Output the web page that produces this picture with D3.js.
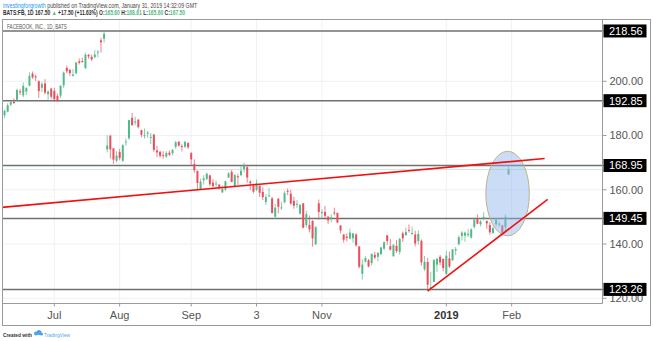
<!DOCTYPE html>
<html>
<head>
<meta charset="utf-8">
<script src="https://cdn.jsdelivr.net/npm/d3@7"></script>
<style>
  body { margin: 0; background: #fff; }
  svg { display: block; font-family: "Liberation Sans", Arial, sans-serif; }
</style>
</head>
<body>
<svg id="chart" width="653" height="341"></svg>
<script>
// Daily sessions, FB on BATS, 1D
const dates = [
  "2018-06-08","2018-06-11","2018-06-12","2018-06-13","2018-06-14","2018-06-15","2018-06-18","2018-06-19","2018-06-20","2018-06-21","2018-06-22","2018-06-25","2018-06-26","2018-06-27","2018-06-28","2018-06-29",
  "2018-07-02","2018-07-03","2018-07-05","2018-07-06","2018-07-09","2018-07-10","2018-07-11","2018-07-12","2018-07-13","2018-07-16","2018-07-17","2018-07-18","2018-07-19","2018-07-20","2018-07-23","2018-07-24","2018-07-25","2018-07-26","2018-07-27","2018-07-30","2018-07-31",
  "2018-08-01","2018-08-02","2018-08-03","2018-08-06","2018-08-07","2018-08-08","2018-08-09","2018-08-10","2018-08-13","2018-08-14","2018-08-15","2018-08-16","2018-08-17","2018-08-20","2018-08-21","2018-08-22","2018-08-23","2018-08-24","2018-08-27","2018-08-28","2018-08-29","2018-08-30","2018-08-31",
  "2018-09-04","2018-09-05","2018-09-06","2018-09-07","2018-09-10","2018-09-11","2018-09-12","2018-09-13","2018-09-14","2018-09-17","2018-09-18","2018-09-19","2018-09-20","2018-09-21","2018-09-24","2018-09-25","2018-09-26","2018-09-27","2018-09-28",
  "2018-10-01","2018-10-02","2018-10-03","2018-10-04","2018-10-05","2018-10-08","2018-10-09","2018-10-10","2018-10-11","2018-10-12","2018-10-15","2018-10-16","2018-10-17","2018-10-18","2018-10-19","2018-10-22","2018-10-23","2018-10-24","2018-10-25","2018-10-26","2018-10-29","2018-10-30","2018-10-31",
  "2018-11-01","2018-11-02","2018-11-05","2018-11-06","2018-11-07","2018-11-08","2018-11-09","2018-11-12","2018-11-13","2018-11-14","2018-11-15","2018-11-16","2018-11-19","2018-11-20","2018-11-21","2018-11-23","2018-11-26","2018-11-27","2018-11-28","2018-11-29","2018-11-30",
  "2018-12-03","2018-12-04","2018-12-06","2018-12-07","2018-12-10","2018-12-11","2018-12-12","2018-12-13","2018-12-14","2018-12-17","2018-12-18","2018-12-19","2018-12-20","2018-12-21","2018-12-24","2018-12-26","2018-12-27","2018-12-28","2018-12-31",
  "2019-01-02","2019-01-03","2019-01-04","2019-01-07","2019-01-08","2019-01-09","2019-01-10","2019-01-11","2019-01-14","2019-01-15","2019-01-16","2019-01-17","2019-01-18","2019-01-22","2019-01-23","2019-01-24","2019-01-25","2019-01-28","2019-01-29","2019-01-30","2019-01-31"
];

const open = [
  187.5,188.8,191.4,192.4,193.2,196.3,194.8,196.2,198.4,202.8,201.8,200.0,197.6,199.2,195.2,197.3,
  196.5,194.6,194.7,198.5,204.9,204.2,202.0,203.0,207.4,207.5,204.9,209.8,209.0,208.9,210.6,215.1,215.7,174.9,179.9,175.3,170.7,
  173.9,170.7,177.7,179.0,186.5,184.8,185.9,182.0,180.1,180.7,179.3,180.4,174.5,174.0,172.8,172.2,173.7,173.5,175.8,177.7,176.1,175.9,177.2,
  173.5,169.5,167.0,160.3,163.5,164.0,165.3,162.6,162.0,161.9,159.0,160.1,164.5,166.6,161.0,165.0,165.4,167.6,168.3,
  163.0,161.6,160.0,161.5,159.2,155.5,157.7,156.8,150.1,156.7,153.3,155.4,159.6,158.5,155.9,154.8,151.2,155.0,147.0,147.0,148.5,139.9,155.0,
  151.5,151.8,150.1,149.3,151.6,151.5,146.8,143.5,142.7,142.0,142.1,143.5,139.1,129.0,133.5,134.0,133.0,136.0,135.3,136.3,138.3,
  143.2,139.2,135.5,139.3,137.1,143.9,143.2,145.2,143.6,143.5,141.1,141.2,130.7,133.4,123.1,126.0,132.4,135.3,134.5,
  129.0,134.7,134.0,137.6,139.9,143.0,143.1,143.3,142.4,146.3,149.6,147.3,149.3,148.5,147.0,144.1,147.3,147.4,146.8,146.2,165.6
];
const high = [
  189.5,191.9,192.6,193.7,197.3,197.2,199.6,197.9,203.3,203.6,202.4,200.4,199.8,200.8,196.7,197.6,
  197.6,195.4,198.6,203.6,205.8,204.6,204.5,207.1,208.4,208.7,210.5,210.0,209.8,211.5,211.6,216.0,218.6,180.1,180.3,175.3,174.2,
  175.1,176.8,178.9,185.8,188.3,186.9,185.9,182.1,182.6,181.7,180.9,180.5,176.2,174.4,174.2,174.2,174.5,175.0,178.0,177.9,176.8,178.2,177.6,
  173.9,171.2,167.0,164.1,165.4,166.4,165.6,164.0,163.4,162.1,161.6,163.4,166.5,167.3,165.7,165.9,169.0,170.0,168.8,
  163.5,162.3,163.7,161.5,160.9,158.3,160.6,157.4,154.8,156.9,155.6,159.5,160.5,160.0,157.4,156.2,154.8,155.1,152.2,150.5,148.8,146.6,156.4,
  152.8,154.1,150.2,151.0,153.4,151.5,147.0,143.7,143.9,145.7,144.1,144.0,139.2,134.4,135.5,134.5,136.4,137.1,136.8,139.0,141.0,
  143.3,141.9,140.0,141.5,142.2,144.6,146.0,147.2,146.4,144.9,145.0,141.7,135.6,134.9,129.7,134.2,135.0,135.9,134.6,
  137.5,137.2,138.0,138.9,143.1,144.7,144.6,145.6,145.8,149.4,150.9,148.8,151.7,148.7,148.0,146.5,149.6,148.3,147.2,150.9,168.61
];
const low = [
  186.4,188.5,190.9,191.6,192.8,194.9,194.1,194.9,198.1,200.9,200.1,193.9,196.1,195.2,192.9,193.5,
  192.5,192.4,193.8,197.6,202.9,202.0,201.8,202.6,206.2,206.8,204.5,208.3,207.5,208.5,208.8,210.6,214.3,173.8,171.5,169.5,170.0,
  170.9,170.3,176.2,178.4,183.7,183.8,182.6,179.4,178.9,179.2,176.8,174.0,172.0,171.8,171.4,171.8,172.5,172.7,175.1,175.9,174.1,175.3,175.0,
  168.8,166.3,160.0,160.0,161.9,163.6,161.3,160.7,160.9,160.1,158.9,159.5,164.5,162.8,160.9,161.8,165.0,166.4,162.6,
  159.9,158.7,159.5,157.4,156.2,154.4,157.4,151.3,149.2,151.3,152.6,155.0,158.0,154.5,153.0,153.3,150.9,145.8,146.1,144.3,139.0,139.7,149.0,
  149.4,149.0,147.4,148.0,150.6,147.7,143.9,140.5,141.0,141.7,140.5,139.0,131.0,126.9,133.2,131.4,132.1,134.5,133.6,135.8,137.7,
  139.7,137.6,135.3,136.7,136.1,140.8,143.2,144.2,143.6,139.1,139.7,132.0,130.0,123.4,123.0,125.9,129.7,132.2,130.0,
  128.6,131.1,133.8,135.9,139.5,141.3,140.8,142.5,142.0,145.7,147.3,146.5,148.7,145.6,143.4,143.6,146.5,146.3,143.1,144.1,165.6
];
const close = [
  189.1,191.2,192.3,192.0,196.8,195.9,198.3,197.5,202.0,201.5,201.7,196.4,199.0,195.8,196.2,194.3,
  193.4,192.7,198.4,203.2,203.7,203.0,202.5,206.9,206.8,207.2,209.8,209.2,208.1,209.9,210.9,214.4,217.5,176.3,174.9,171.1,172.6,
  171.7,176.4,177.8,185.7,183.8,185.2,183.1,180.3,180.1,181.1,179.5,174.7,173.8,172.5,172.6,173.6,172.9,174.7,177.5,176.3,175.9,177.6,175.7,
  171.2,167.2,162.5,163.0,164.2,165.9,162.0,161.4,162.3,160.6,160.3,163.1,166.0,162.9,165.4,164.9,167.0,168.8,164.5,
  162.4,159.3,162.4,158.9,157.3,157.3,157.9,151.4,153.4,153.7,153.5,158.8,159.4,154.9,154.1,154.8,154.4,146.0,151.0,145.4,142.1,146.2,151.8,
  151.8,150.4,148.7,149.9,151.5,147.9,145.0,141.6,142.2,144.2,143.9,139.5,131.6,132.4,134.8,131.7,136.4,135.0,136.8,138.7,140.6,
  141.1,137.9,139.6,137.4,141.9,142.1,144.5,145.0,144.1,140.2,143.7,133.2,133.4,125.0,124.1,134.2,134.5,133.2,131.1,
  135.7,131.7,138.0,138.1,142.5,144.2,144.2,143.8,145.4,149.0,147.5,148.3,150.0,147.6,144.3,145.8,149.0,147.5,144.2,150.0,167.5
];

// Horizontal support / resistance levels
const levels = [218.56, 192.85, 168.95, 149.45, 123.26];
const lastPrice = 167.50;

// Price axis ticks
const priceTicks = [120, 140, 160, 180, 200];

// Time axis ticks
const timeTickDates = ["2018-07-02", "2018-08-01", "2018-09-04", "2018-10-03", "2018-11-01", "2019-01-02", "2019-02-01"];
const timeTickLabels = ["Jul", "Aug", "Sep", "3", "Nov", "2019", "Feb"];

// Trend lines: [bar offset from first session, price]
const trendStart = [[-1, 153.47], [135.97, 122.6]];
const trendEnd   = [[173.6, 171.52], [174.57, 156.48]];

// Highlight ellipse: centre (bar, price) and radii (bars, price)
const ellipseCentre = [161.7, 158.6];
const ellipseRadii = [7.0, 15.6];

// Visible window
const barDomain = [-0.66, 192.2];
const priceDomain = [118.06, 222.79];

const upColor = "#53b987", downColor = "#eb4d5c";
const svg = d3.select("#chart");

const P = { left: 2.5, right: 602.5, top: 19.5, bottom: 303.5, outerRight: 650.5, outerBottom: 325.5 };

const x = d3.scaleLinear().domain(barDomain).range([P.left, P.right]);
const y = d3.scaleLinear().domain(priceDomain).range([P.bottom, P.top]);

function barIndex(ds) {
  const i = dates.indexOf(ds);
  if (i >= 0) return i;
  let n = dates.length - 1;
  let d = new Date(dates[n] + "T00:00:00Z");
  const target = new Date(ds + "T00:00:00Z");
  while (d < target) {
    d = new Date(d.getTime() + 86400000);
    const wd = d.getUTCDay();
    if (wd !== 0 && wd !== 6) n++;
  }
  return n;
}

// Narrow a text line horizontally so it spans the given width
function fitWidth(g, width) {
  const w = g.select("text").node().getComputedTextLength();
  const tr = g.attr("data-origin");
  g.attr("transform", `translate(${tr}) scale(${width / w},1)`);
}

// Header
const head1 = svg.append("g").attr("data-origin", "3,7.5");
const h1 = head1.append("text").attr("font-size", 6.4).attr("fill", "#444");
h1.append("tspan").attr("fill", "#2196f3").text("investingforgrowth");
h1.append("tspan").text(" published on TradingView.com, January 31, 2019 14:32:09 GMT");
fitWidth(head1, 194);

const head2 = svg.append("g").attr("data-origin", "3,15");
const h2 = head2.append("text").attr("font-size", 6.4).attr("fill", "#333").attr("font-weight", 600);
h2.append("tspan").text("BATS:FB, 1D 167.50 ");
h2.append("tspan").attr("fill", upColor).text("▲");
h2.append("tspan").text(" +17.50 (+11.63%) O:");
h2.append("tspan").attr("fill", upColor).text("165.60");
h2.append("tspan").text(" H:");
h2.append("tspan").attr("fill", upColor).text("168.61");
h2.append("tspan").text(" L:");
h2.append("tspan").attr("fill", upColor).text("165.60");
h2.append("tspan").text(" C:");
h2.append("tspan").attr("fill", upColor).text("167.50");
fitWidth(head2, 182);

// Clip for plotting area
svg.append("defs").append("clipPath").attr("id", "plotClip")
  .append("rect").attr("x", P.left).attr("y", P.top).attr("width", P.right - P.left).attr("height", P.bottom - P.top);

// Grid
const grid = svg.append("g").attr("stroke", "#eef1f5").attr("stroke-width", 1);
grid.selectAll("line.v").data(timeTickDates).join("line")
  .attr("x1", d => x(barIndex(d))).attr("x2", d => x(barIndex(d)))
  .attr("y1", P.top).attr("y2", P.bottom);
grid.selectAll("line.h").data(priceTicks).join("line")
  .attr("x1", P.left).attr("x2", P.right)
  .attr("y1", d => y(d)).attr("y2", d => y(d));

const plot = svg.append("g").attr("clip-path", "url(#plotClip)");

// Symbol title
const titleG = svg.append("g").attr("data-origin", "7,28.5");
titleG.append("text").attr("font-size", 6.5).attr("fill", "#555").text("FACEBOOK, INC., 1D, BATS");
fitWidth(titleG, 60);

// Level lines
plot.selectAll("line.level").data(levels).join("line")
  .attr("x1", P.left).attr("x2", P.right)
  .attr("y1", d => y(d)).attr("y2", d => y(d))
  .attr("stroke", "#707070").attr("stroke-width", 1.5);

// Last price line
plot.append("line")
  .attr("x1", P.left).attr("x2", P.right)
  .attr("y1", y(lastPrice)).attr("y2", y(lastPrice))
  .attr("stroke", upColor).attr("stroke-opacity", 0.6).attr("stroke-dasharray", "1,1");

// Candles
const bars = dates.map((d, i) => ({ i, o: open[i], h: high[i], l: low[i], c: close[i] }));
const col = d => d.c >= d.o ? upColor : downColor;
plot.selectAll("line.wick").data(bars).join("line")
  .attr("x1", d => x(d.i)).attr("x2", d => x(d.i))
  .attr("y1", d => y(d.h)).attr("y2", d => y(d.l))
  .attr("stroke", col).attr("stroke-width", 1).attr("stroke-opacity", 0.7);
plot.selectAll("rect.body").data(bars).join("rect")
  .attr("x", d => x(d.i) - 1).attr("width", 2)
  .attr("y", d => y(Math.max(d.o, d.c)))
  .attr("height", d => Math.max(1, Math.abs(y(d.o) - y(d.c))))
  .attr("fill", col);

// Highlight ellipse
plot.append("ellipse")
  .attr("cx", x(ellipseCentre[0])).attr("cy", y(ellipseCentre[1]))
  .attr("rx", x(ellipseCentre[0] + ellipseRadii[0]) - x(ellipseCentre[0]))
  .attr("ry", y(ellipseCentre[1] - ellipseRadii[1]) - y(ellipseCentre[1]))
  .attr("fill", "rgb(140,180,235)").attr("fill-opacity", 0.45)
  .attr("stroke", "#b9b38a").attr("stroke-width", 1);

// Trend lines
plot.selectAll("line.trend").data(d3.range(trendStart.length)).join("line")
  .attr("x1", k => x(trendStart[k][0])).attr("y1", k => y(trendStart[k][1]))
  .attr("x2", k => x(trendEnd[k][0])).attr("y2", k => y(trendEnd[k][1]))
  .attr("stroke", "#f01010").attr("stroke-width", 1.6);

// Frame
const frame = svg.append("g").attr("stroke", "#9a9a9a").attr("fill", "none");
frame.append("rect").attr("x", P.left).attr("y", P.top)
  .attr("width", P.outerRight - P.left).attr("height", P.outerBottom - P.top);
frame.append("line").attr("x1", P.right).attr("x2", P.right).attr("y1", P.top).attr("y2", P.bottom);
frame.append("line").attr("x1", P.left).attr("x2", P.right).attr("y1", P.bottom).attr("y2", P.bottom);

// Price axis
const pa = svg.append("g");
pa.selectAll("line.tick").data(priceTicks.concat(levels)).join("line")
  .attr("x1", P.right).attr("x2", P.right + 4)
  .attr("y1", d => y(d)).attr("y2", d => y(d))
  .attr("stroke", "#9a9a9a");
pa.selectAll("text.tick").data(priceTicks).join("text")
  .attr("x", P.right + 7).attr("y", d => y(d)).attr("dy", "0.35em")
  .attr("font-size", 11).attr("fill", "#555")
  .text(d => d3.format(".2f")(d));
const lab = pa.selectAll("g.level").data(levels).join("g");
lab.append("rect").attr("x", P.right + 1).attr("width", 43).attr("y", d => y(d) - 6.5).attr("height", 13).attr("fill", "#000");
lab.append("text").attr("x", P.right + 6.5).attr("y", d => y(d)).attr("dy", "0.36em")
  .attr("font-size", 11).attr("fill", "#fff").text(d => d3.format(".2f")(d));

// Time axis
const ta = svg.append("g");
ta.selectAll("line").data(timeTickDates).join("line")
  .attr("x1", d => x(barIndex(d))).attr("x2", d => x(barIndex(d)))
  .attr("y1", P.bottom).attr("y2", P.bottom + 3).attr("stroke", "#9a9a9a");
ta.selectAll("text").data(timeTickDates).join("text")
  .attr("x", d => x(barIndex(d))).attr("y", 319)
  .attr("text-anchor", "middle").attr("font-size", 11)
  .attr("fill", (d, k) => timeTickLabels[k] === "2019" ? "#333" : "#555")
  .attr("font-weight", (d, k) => timeTickLabels[k] === "2019" ? "bold" : "normal")
  .text((d, k) => timeTickLabels[k]);

// Footer
const foot1 = svg.append("g").attr("data-origin", "3,337");
foot1.append("text").attr("font-size", 5.8).attr("font-weight", 600).attr("fill", "#333").text("Created with");
fitWidth(foot1, 29);
const logo = svg.append("g").attr("transform", "translate(36,332.5)").attr("fill", "#4aa3f0");
logo.append("circle").attr("cx", 0).attr("cy", 1).attr("r", 2);
logo.append("circle").attr("cx", 3).attr("cy", 0).attr("r", 2.5);
logo.append("circle").attr("cx", 5.5).attr("cy", 1.5).attr("r", 1.6);
const foot2 = svg.append("g").attr("data-origin", "44,337");
foot2.append("text").attr("font-size", 5.8).attr("fill", "#4aa3f0").text("TradingView");
fitWidth(foot2, 26);
</script>
</body>
</html>
